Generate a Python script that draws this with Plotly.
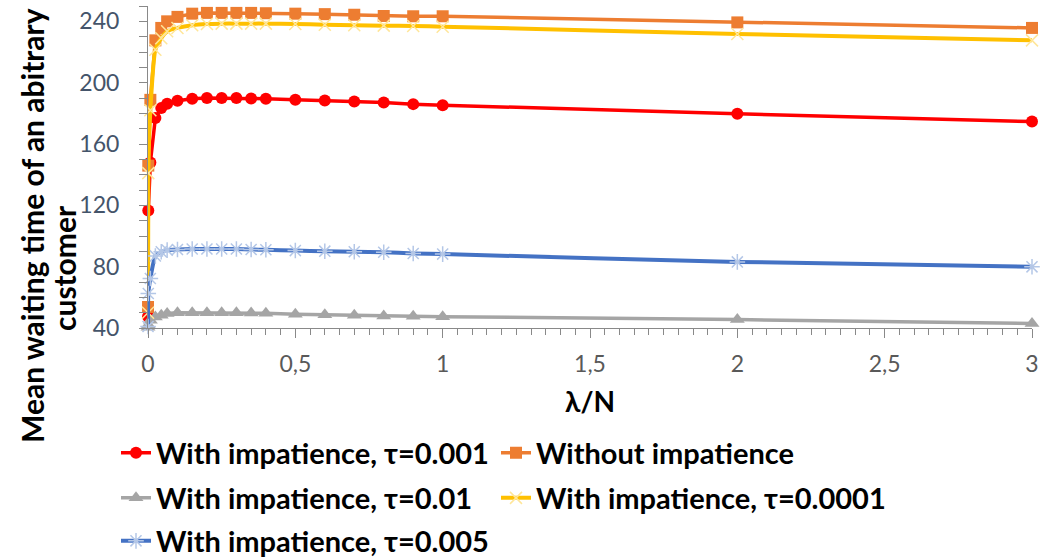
import plotly.graph_objects as go

# ---- data ----
lam_over_n = [0.0001, 0.001, 0.008, 0.025, 0.045, 0.065, 0.1, 0.15, 0.2, 0.25, 0.3,
              0.35, 0.4, 0.5, 0.6, 0.7, 0.8, 0.9, 1, 2, 3]
tau_0001 = [47.5, 116.7, 148, 177, 183.4, 186.2, 188.2, 189.5, 190, 190, 190,
            189.7, 189.5, 188.8, 188.4, 187.7, 187.1, 186, 185.3, 179.7, 174.6]
without_imp = [53.7, 145.9, 188.8, 227.6, 235.7, 240, 242.9, 245, 245.5, 245.5, 245.5,
               245.5, 245.3, 245, 244.7, 244.3, 243.5, 243.3, 243.3, 239.3, 235.7]
tau_01 = [40.5, 42, 45, 47.2, 48.3, 49.4, 50, 50, 50, 50, 50,
          49.8, 49.6, 49, 48.6, 48.3, 47.9, 47.6, 47.4, 45.5, 42.9]
tau_00001 = [50, 141, 182, 221.5, 229, 233.5, 235.7, 237.5, 238.3, 238.5, 238.5,
             238.5, 238.5, 238.3, 237.8, 237.5, 237.2, 237, 236.5, 231.8, 227.6]
tau_005 = [41, 62.5, 72.3, 87, 89.7, 90.8, 91.2, 91.5, 91.5, 91.5, 91.5,
           91.2, 91, 90.5, 90.1, 89.7, 89.4, 88.6, 88.2, 83.1, 79.9]

names = ["With impatience, τ=0.001", "Without impatience", "With impatience, τ=0.01",
         "With impatience, τ=0.0001", "With impatience, τ=0.005"]
x_title = "λ/N"
y_title_lines = ["Mean waiting time of an abitrary", "customer"]

FONT = "Lato"

W, H = 1048, 559
L, R, T = 148, 16, 6
B = H - 328
PW, PH = W - L - R, H - T - B


def px_x(p):
    return (p - L) / PW


def px_y(p):
    return (H - B - p) / PH


fig = go.Figure()

series = [
    (tau_0001, names[0], "#FF0000", dict(symbol="circle", size=12, color="#FF0000"), "linear", "legend"),
    (without_imp, names[1], "#ED7D31", dict(symbol="square", size=12, color="#ED7D31"), "linear", "legend2"),
    (tau_01, names[2], "#A5A5A5", dict(symbol="triangle-up", size=13, color="#A5A5A5"), "linear", "legend3"),
    (tau_00001, names[3], "#FFC000",
     dict(symbol="x-thin-open", size=12, color="#FFE699", line=dict(color="#FFE699", width=1.5)), "spline", "legend4"),
    (tau_005, names[4], "#4472C4",
     dict(symbol="asterisk-open", size=13, color="#B4C7E7", line=dict(color="#B4C7E7", width=1.5)), "spline", "legend5"),
]

for ys, nm, col, mk, shape, lg in series:
    line = dict(color=col, width=3.5, shape=shape)
    if shape == "spline":
        line["smoothing"] = 0.5
        line["width"] = 4
    fig.add_trace(go.Scatter(
        x=lam_over_n, y=ys, name=nm, mode="lines+markers",
        line=line, marker=mk, cliponaxis=False, legend=lg,
    ))

axis_col = "#898989"
fig.update_layout(
    width=W, height=H,
    margin=dict(l=L, r=R, t=T, b=B, autoexpand=False),
    paper_bgcolor="white", plot_bgcolor="white",
    separators=", ",
    font=dict(family=FONT),
    xaxis=dict(
        range=[0, 3], tick0=0, dtick=0.5, showgrid=False, zeroline=False,
        showline=True, linecolor=axis_col, linewidth=1,
        ticks="outside", ticklen=9, tickcolor=axis_col,
        minor=dict(dtick=0.05, ticks="outside", ticklen=6, tickcolor=axis_col, showgrid=False),
        tickfont=dict(family=FONT, size=23, color="#595959"),
        ticklabelstandoff=6,
    ),
    yaxis=dict(
        range=[40, 250], tick0=40, dtick=40, showgrid=False, zeroline=False,
        showline=True, linecolor=axis_col, linewidth=1,
        ticks="outside", ticklen=8, tickcolor=axis_col,
        minor=dict(dtick=10, ticks="outside", ticklen=8, tickcolor=axis_col, showgrid=False),
        tickfont=dict(family=FONT, size=23, color="#44546A"),
        ticklabelstandoff=15,
    ),
    showlegend=True,
)

leg_font = dict(family=FONT, size=29, color="black", weight="bold")
col_text_x = [158, 538]
row_y = [453, 498, 541]
positions = [(0, 0), (1, 0), (0, 1), (1, 1), (0, 2)]
for i, (c, r) in enumerate(positions):
    key = "legend" if i == 0 else f"legend{i + 1}"
    fig.update_layout({key: dict(
        x=px_x(col_text_x[c] - 42), y=px_y(row_y[r]), xanchor="left", yanchor="middle",
        xref="paper", yref="paper", font=leg_font, itemwidth=30,
        bgcolor="rgba(0,0,0,0)", borderwidth=0,
    )})

title_font = dict(family=FONT, size=30, color="black", weight="bold")
for txt, cx, cy in zip(y_title_lines, [32, 64], [226, 268]):
    fig.add_annotation(
        text=txt, textangle=-90, xref="paper", yref="paper",
        x=px_x(cx), y=px_y(cy), xanchor="center", yanchor="middle", showarrow=False,
        font=title_font,
    )
fig.add_annotation(
    text=x_title, xref="paper", yref="paper",
    x=0.5, y=px_y(401), xanchor="center", yanchor="middle", showarrow=False,
    font=dict(family=FONT, size=28, color="black", weight="bold"),
)

# remove the browser's default page margin so the figure sits at the window origin
fig.write_html("out.html", config={"displayModeBar": False},
               post_script="document.body.style.margin='0px';")
